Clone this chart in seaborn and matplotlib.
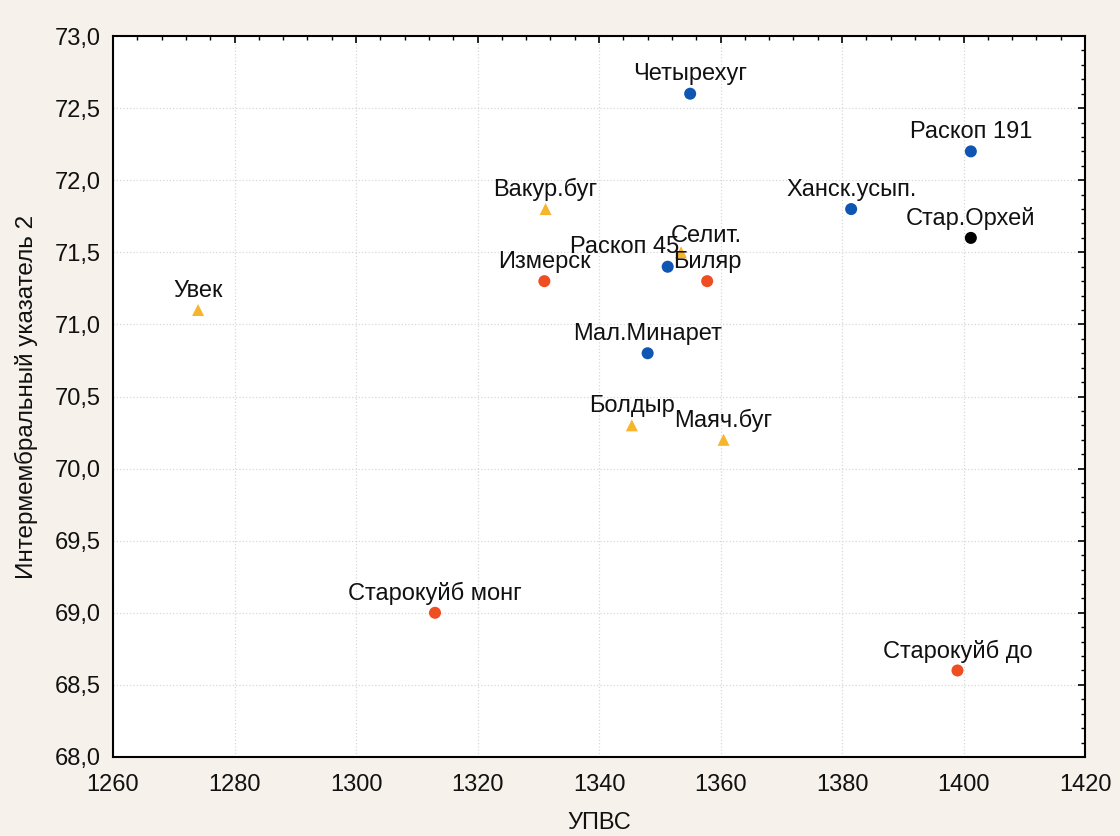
import pandas as pd
import matplotlib
matplotlib.use('Agg')
import matplotlib.pyplot as plt
import seaborn as sns
from matplotlib.ticker import MultipleLocator, FuncFormatter

# данные - точки
names = ['Четырехуг', 'Раскоп 191', 'Ханск.усып.', 'Стар.Орхей', 'Раскоп 45',
         'Селит.', 'Биляр', 'Измерск', 'Вакур.буг', 'Увек', 'Мал.Минарет',
         'Болдыр', 'Маяч.буг', 'Старокуйб монг', 'Старокуйб до']
upvs = [1355.0, 1401.2, 1381.5, 1401.2, 1351.3,
        1353.5, 1357.8, 1331.0, 1331.2, 1274.0, 1348.0,
        1345.4, 1360.5, 1313.0, 1399.0]
index2 = [72.6, 72.2, 71.8, 71.6, 71.4,
          71.5, 71.3, 71.3, 71.8, 71.1, 70.8,
          70.3, 70.2, 69.0, 68.6]
groups = ['blue', 'blue', 'blue', 'black', 'blue',
          'yellow', 'red', 'red', 'yellow', 'yellow', 'blue',
          'yellow', 'yellow', 'red', 'red']

palette = {'blue': '#0f56b3', 'red': '#ee4e22', 'yellow': '#f7b52b', 'black': '#000000'}
markers = {'blue': 'o', 'red': 'o', 'yellow': '^', 'black': 'o'}

# przesunięcia etykiet (w punktach) - większość nad punktem
label_offsets = {'Раскоп 45': (-31, 14), 'Селит.': (18, 12)}

sns.set_style('white')
plt.rcParams['font.family'] = ['Liberation Sans', 'DejaVu Sans']
fs = 17

df = pd.DataFrame({'x': upvs, 'y': index2, 'name': names, 'group': groups})

fig = plt.figure(figsize=(11.2, 8.36), dpi=100, facecolor='#f6f2eb')
ax = fig.add_axes([0.1009, 0.0945, 0.8679, 0.8624])
ax.set_facecolor('white')

sns.scatterplot(x='x', y='y', hue='group', style='group', data=df, palette=palette,
                markers=markers, s=75, linewidth=0, legend=False, ax=ax, zorder=3)

for n, xv, yv in zip(names, upvs, index2):
    dx, dy = label_offsets.get(n, (0, 14))
    ax.annotate(n, (xv, yv), xytext=(dx, dy), textcoords='offset points',
                ha='center', va='center', fontsize=fs, color='#111111', zorder=4)

ax.set_xlim(1260, 1420)
ax.set_ylim(68.0, 73.0)
ax.xaxis.set_major_locator(MultipleLocator(20))
ax.xaxis.set_minor_locator(MultipleLocator(4))
ax.yaxis.set_major_locator(MultipleLocator(0.5))
ax.yaxis.set_minor_locator(MultipleLocator(0.1))
ax.yaxis.set_major_formatter(FuncFormatter(lambda v, p: f'{v:.1f}'.replace('.', ',')))

ax.tick_params(which='both', direction='in', top=True, right=True, color='black',
               labelsize=fs, labelcolor='#111111')
ax.tick_params(which='major', length=5, width=1.2)
ax.tick_params(axis='x', which='major', pad=12)
ax.tick_params(axis='y', which='major', pad=9)
ax.tick_params(which='minor', length=3, width=1.0)
ax.grid(True, which='major', linestyle=':', color='#d8d8d8', linewidth=0.9)
for sp in ax.spines.values():
    sp.set_visible(True)
    sp.set_color('black')
    sp.set_linewidth(1.5)

ax.set_xlabel('УПВС', fontsize=fs, color='#111111', labelpad=12)
ax.set_ylabel('Интермембральный указатель 2', fontsize=17.5, color='#111111', labelpad=12)

fig.savefig('out.png', dpi=100, facecolor=fig.get_facecolor())
